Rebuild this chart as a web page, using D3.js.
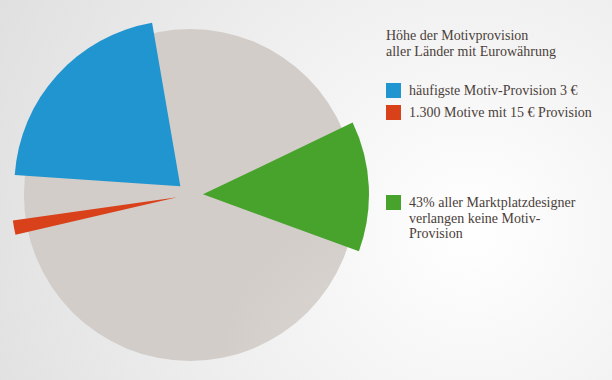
<!DOCTYPE html>
<html>
<head>
<meta charset="utf-8">
<script src="https://cdn.jsdelivr.net/npm/d3@7"></script>
<style>
  html, body { margin: 0; padding: 0; }
  svg { display: block; }
</style>
</head>
<body>
<svg></svg>
<script>
  const width = 612,
        height = 380,
        cx = 190, cy = 195,   // pie centre
        r = 166,              // pie radius
        pull = 13;            // how far the highlighted slices stick out

  // share of the circle (%), clockwise from the start angle
  const categories = ['rest1', 'keine', 'rest2', 'fuenfzehn', 'rest3', 'drei'];
  const shares     = [20.6, 12.7, 40.8, 1.4, 3.3, 21.2];
  const highlight  = [false, true, false, true, false, true];
  const startDeg   = -9.8;

  const titleLines = ['Höhe der Motivprovision', 'aller Länder mit Eurowährung'];
  const legendKeys = ['drei', 'fuenfzehn', 'keine'];
  const legendText = [
    ['häufigste Motiv-Provision 3 €'],
    ['1.300 Motive mit 15 € Provision'],
    ['43% aller Marktplatzdesigner', 'verlangen keine Motiv-', 'Provision']
  ];

  const colour = d3.scaleOrdinal()
    .domain(['keine', 'fuenfzehn', 'drei'])
    .range(['#47a32c', '#d9411a', '#2095cf'])
    .unknown('#dad6d2');

  let svg = d3.select('svg')
    .attr('width', width)
    .attr('height', height);

  let defs = svg.append('defs');

  let bg = defs.append('radialGradient').attr('id', 'bg')
    .attr('gradientUnits', 'userSpaceOnUse')
    .attr('cx', 470).attr('cy', 230).attr('r', 520);
  bg.append('stop').attr('offset', 0).attr('stop-color', '#ffffff');
  bg.append('stop').attr('offset', 1).attr('stop-color', '#e0e0e0');

  let disc = defs.append('radialGradient').attr('id', 'disc')
    .attr('gradientUnits', 'userSpaceOnUse')
    .attr('cx', cx + 20).attr('cy', cy).attr('r', r + 20);
  disc.append('stop').attr('offset', 0).attr('stop-color', '#dfdbd7');
  disc.append('stop').attr('offset', 1).attr('stop-color', '#d2cdc9');

  svg.append('rect')
    .attr('width', width)
    .attr('height', height)
    .attr('fill', 'url(#bg)');

  const data = categories.map((c, i) => ({ key: c, value: shares[i], hi: highlight[i] }));

  const pie = d3.pie()
    .sort(null)
    .value(d => d.value)
    .startAngle(startDeg * Math.PI / 180)
    .endAngle(startDeg * Math.PI / 180 + 2 * Math.PI);

  const arc = d3.arc().innerRadius(0).outerRadius(r);

  let g = svg.append('g').attr('transform', 'translate(' + [cx, cy] + ')');

  // the grey disc underneath everything
  g.append('path')
    .attr('fill', 'url(#disc)')
    .attr('d', arc({ startAngle: 0, endAngle: 2 * Math.PI }));

  g.selectAll('path.slice')
    .data(pie(data).filter(d => d.data.hi))
    .enter().append('path')
    .attr('class', 'slice')
    .attr('fill', d => colour(d.data.key))
    .attr('transform', d => {
      const a = (d.startAngle + d.endAngle) / 2;
      return 'translate(' + [Math.sin(a) * pull, -Math.cos(a) * pull] + ')';
    })
    .attr('d', arc);

  // title + legend
  const font = '"Liberation Serif", serif',
        ink = '#4b3f3a';

  svg.append('text')
    .attr('x', 386).attr('y', 40)
    .attr('font-family', font).attr('font-size', 14).attr('fill', ink)
    .selectAll('tspan')
    .data(titleLines)
    .enter().append('tspan')
    .attr('x', 386)
    .attr('dy', (d, i) => i ? 16 : 0)
    .text(d => d);

  const legendY = [83, 105, 195];

  let items = svg.selectAll('g.legend')
    .data(legendKeys)
    .enter().append('g')
    .attr('class', 'legend')
    .attr('transform', (d, i) => 'translate(' + [386, legendY[i]] + ')');

  items.append('rect')
    .attr('width', 15).attr('height', 15)
    .attr('fill', d => colour(d));

  items.append('text')
    .attr('font-family', font).attr('font-size', 14).attr('fill', ink)
    .selectAll('tspan')
    .data((d, i) => legendText[i])
    .enter().append('tspan')
    .attr('x', 23)
    .attr('y', (d, i) => 12 + i * 15.5)
    .text(d => d);
</script>
</body>
</html>
